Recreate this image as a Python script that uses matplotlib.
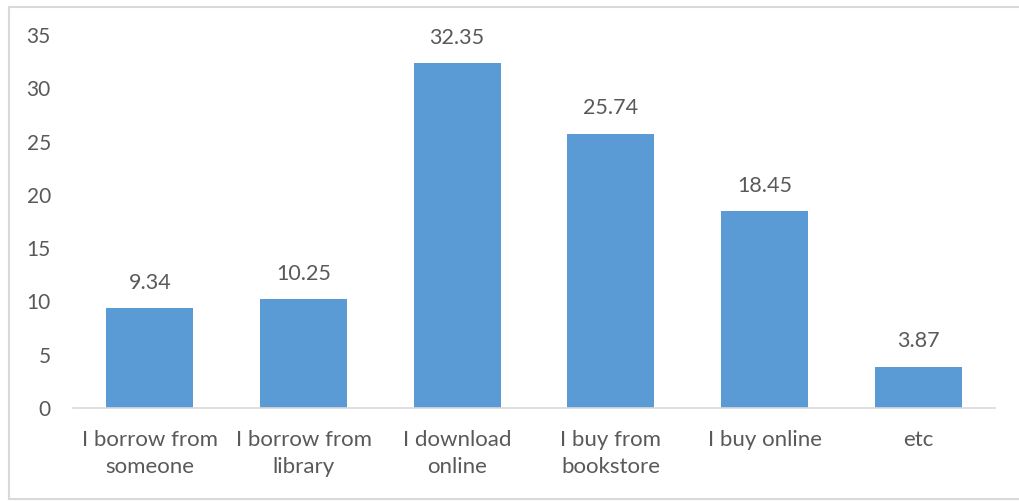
import matplotlib
matplotlib.use("Agg")
import matplotlib.pyplot as plt
from matplotlib.lines import Line2D

categories = ["I borrow from\nsomeone", "I borrow from\nlibrary", "I download\nonline",
              "I buy from\nbookstore", "I buy online", "etc"]
values = [9.34, 10.25, 32.35, 25.74, 18.45, 3.87]
value_labels = ["9.34", "10.25", "32.35", "25.74", "18.45", "3.87"]
yticks = [0, 5, 10, 15, 20, 25, 30, 35]

plt.rcParams['font.family'] = ['Lato', 'DejaVu Sans']
text_color = "#595959"
bar_color = "#5B9BD5"
border = "#D9D9D9"

W, H = 1019, 501
fig = plt.figure(figsize=(W / 100, H / 100), dpi=100)
# chart-area border (right edge lies outside the image)
xl, yt, yb = 8.5 / W, 1 - 6.5 / H, 1 - 498.5 / H
for xs, ys in [([xl, xl], [yb, yt]), ([xl, 1.0], [yt, yt]), ([xl, 1.0], [yb, yb])]:
    fig.add_artist(Line2D(xs, ys, transform=fig.transFigure, color=border, linewidth=1.5))

ax = fig.add_axes([73 / W, (H - 408) / H, (995 - 73) / W, (408 - 35.1) / H])
x = list(range(len(categories)))
ax.bar(x, values, width=0.566, color=bar_color)
ax.set_xlim(-0.5, len(categories) - 0.5)
ax.set_ylim(0, 35)
ax.set_yticks(yticks)
ax.set_xticks(x)
ax.set_xticklabels(categories, linespacing=1.4)
for s in ["top", "right", "left"]:
    ax.spines[s].set_visible(False)
ax.spines["bottom"].set_color(border)
ax.spines["bottom"].set_linewidth(1.2)
ax.tick_params(axis="y", length=0, pad=16, labelsize=15, labelcolor=text_color)
ax.tick_params(axis="x", length=0, pad=16, labelsize=16, labelcolor=text_color)

for xi, v, lab in zip(x, values, value_labels):
    ax.annotate(lab, (xi, v), xytext=(0, 11), textcoords="offset points",
                ha="center", va="bottom", fontsize=15.5, color=text_color)

fig.savefig("out.png", dpi=100)
